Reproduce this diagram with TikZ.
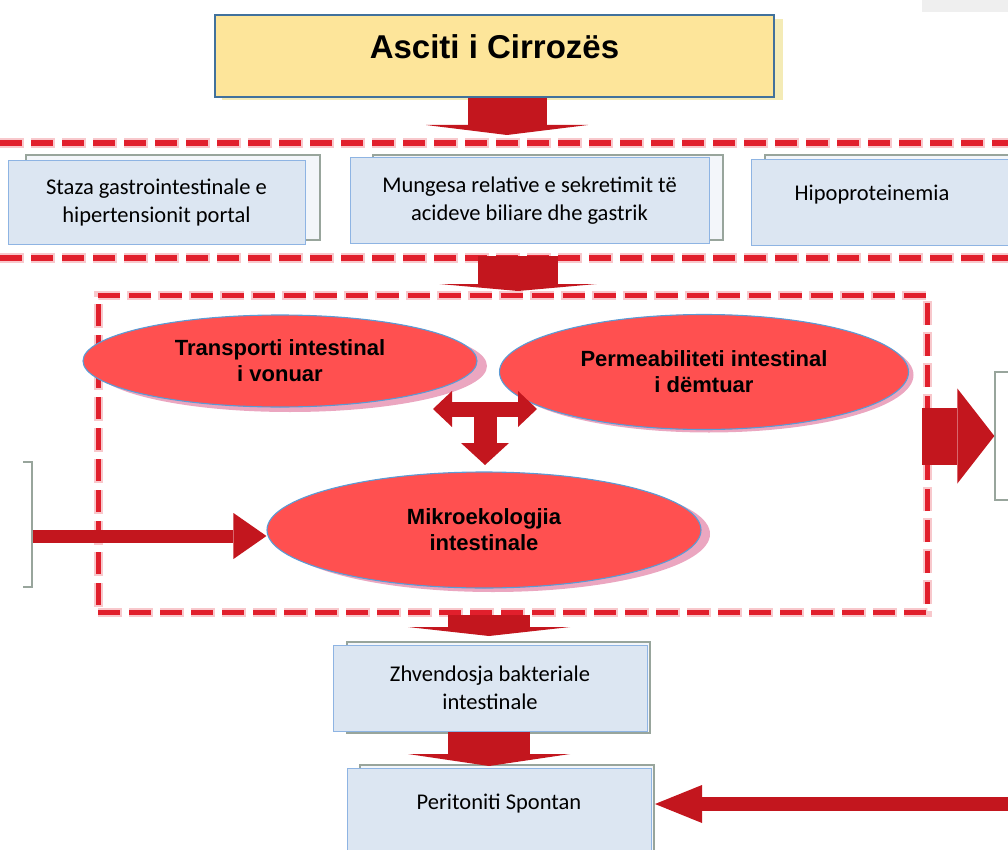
\documentclass[tikz,border=0pt]{standalone}
\usepackage{fontspec}
\setmainfont{Liberation Sans}
\newfontfamily\calfont{Carlito}
\usetikzlibrary{arrows.meta,shapes.geometric,calc}

\definecolor{titlefill}{HTML}{FDE59A}
\definecolor{titleline}{HTML}{41719C}
\definecolor{titleglow}{HTML}{F4EBB6}
\definecolor{boxfill}{HTML}{DCE6F2}
\definecolor{boxline}{HTML}{8EB4E3}
\definecolor{boxshade}{HTML}{98A59C}
\definecolor{ovalfill}{HTML}{FF5050}
\definecolor{ovalline}{HTML}{5B9BD5}
\definecolor{ovalshade}{HTML}{EBA6C0}
\definecolor{flowred}{HTML}{C3161E}
\definecolor{dashred}{HTML}{E11F2C}
\definecolor{dashhalo}{HTML}{F8C8CC}
\definecolor{cornergray}{HTML}{EFEFEF}

\tikzset{
  boxtext/.style={font=\calfont\fontsize{22.5}{27.5}\selectfont},
  infobox/.style={rectangle, draw=boxline, line width=1pt, fill=boxfill,
    inner sep=0pt, align=center, boxtext},
  boxshadow/.style={draw=boxshade, line width=1.3pt, fill=boxfill!35},
  oval/.style={ellipse, draw=ovalline, line width=1.1pt, fill=ovalfill,
    inner sep=0pt, align=center, font=\bfseries\fontsize{22}{26}\selectfont},
  ovalshadow/.style={ellipse, fill=ovalshade, inner sep=0pt},
  redband/.style={dashred, line width=5.5pt, dash pattern=on 22pt off 9pt},
  redhalo/.style={dashhalo, line width=10pt, dash pattern=on 24pt off 7pt},
  flow/.style={flowred, line width=#1},
  flathead/.style 2 args={-{Triangle[length=#1,width=#2,line width=0pt]}},
}

\begin{document}
\begin{tikzpicture}[x=1pt,y=-1pt]
\useasboundingbox (0,0) rectangle (1008,850);

% small grey patch in the upper right corner
\fill[cornergray] (922,0) rectangle (1008,12);

% ---------- title ----------
\fill[titleglow] (222,19) rectangle (783,100);
\node[rectangle, draw=titleline, line width=1.3pt, fill=titlefill,
  minimum width=559pt, minimum height=82pt, inner sep=0pt,
  label={[font=\bfseries\fontsize{33}{38}\selectfont, yshift=9pt]center:Asciti i Cirrozës}]
  (title) at (494.5,56) {};

% ---------- dashed band around the three causes ----------
\draw[redhalo] (0,143) -- (1008,143);
\draw[redhalo] (0,258) -- (1008,258);
\draw[redband] (0,143) -- (1008,143);
\draw[redband] (0,258) -- (1008,258);

% box shadows
\draw[boxshadow] (26,155) rectangle (320,240);
\draw[boxshadow] (373,155) rectangle (723,240);
\draw[boxshadow] (765,155) rectangle (1040,240);

\node[infobox, minimum width=297pt, minimum height=83pt] (stasis) at (156.5,202.5)
  {Staza gastrointestinale e\\hipertensionit portal};
\node[infobox, minimum width=359pt, minimum height=85pt] (acid) at (529.5,200.5)
  {Mungesa relative e sekretimit të\\acideve biliare dhe gastrik};
\node[infobox, minimum width=289pt, minimum height=85pt,
  label={[boxtext, xshift=-23.5pt, yshift=7.5pt]center:Hipoproteinemia}]
  (hypo) at (895.5,202.5) {};

% arrow from the title into the band
\coordinate (t1) at (507,135);
\draw[flow=79pt, flathead={10pt}{162pt}] (title.south -| t1) -- (t1);

% arrow from the band into the intestinal zone
\coordinate (s2) at (518,256);
\coordinate (t2) at (518,291);
\draw[flow=80pt, flathead={7pt}{157pt}] (s2) -- (t2);

% ---------- intestinal zone ----------
\node[rectangle, minimum width=829pt, minimum height=317pt, inner sep=0pt,
  draw=dashhalo, line width=9pt, dash pattern=on 24pt off 7pt] (zonehalo) at (512.5,453.5) {};
\node[rectangle, minimum width=829pt, minimum height=317pt, inner sep=0pt,
  draw=dashred, line width=5pt, dash pattern=on 22pt off 9pt] (zone) at (512.5,453.5) {};

% ellipse shadows
\node[ovalshadow, minimum width=394pt, minimum height=92pt] at (290,366) {};
\node[ovalshadow, minimum width=409pt, minimum height=115pt] at (709,375) {};
\node[ovalshadow, minimum width=434pt, minimum height=116pt] at (493,534) {};

\node[oval, minimum width=394pt, minimum height=92pt] (transport) at (280,361)
  {Transporti intestinal\\i vonuar};
\node[oval, minimum width=409pt, minimum height=115pt] (perm) at (704,372)
  {Permeabiliteti intestinal\\i dëmtuar};
\node[oval, minimum width=434pt, minimum height=116pt] (micro) at (484,530)
  {Mikroekologjia\\intestinale};

% three-way arrow between the ellipses
\coordinate (tl) at (433,409);
\coordinate (tr) at (537,409);
\coordinate (tj) at (485,403);
\coordinate (tb) at (485,465);
\draw[flow=15pt, {Triangle[length=19pt,width=36pt,line width=0pt]}-{Triangle[length=19pt,width=36pt,line width=0pt]}] (tl) -- (tr);
\draw[flow=23pt, flathead={22pt}{48pt}] (tj) -- (tb);

% ---------- side boxes cut by the frame ----------
\begin{scope}
  \clip (23,0) rectangle (1008,850);
  \node[rectangle, draw=boxshade, line width=1.3pt, fill=white,
    minimum width=132pt, minimum height=125pt] (leftbox) at (-34,524.5) {};
\end{scope}
\node[rectangle, draw=boxshade, line width=1.3pt, fill=white,
  minimum width=105pt, minimum height=128pt] (rightbox) at (1047.5,436) {};

\coordinate (la) at (32,536);
\draw[flow=13pt, flathead={33pt}{46pt}] (leftbox.east |- la) -- (micro.west |- la);

\coordinate (ra) at (922,436);
\draw[flow=57pt, flathead={37pt}{95pt}] (ra) -- (rightbox.west |- ra);

% ---------- lower chain ----------
\draw[boxshadow] (347,642) rectangle (650,733);
\node[infobox, minimum width=314pt, minimum height=86pt] (shift) at (490,688)
  {Zhvendosja bakteriale\\intestinale};

\draw[boxshadow] (360,765) rectangle (654,900);
\node[infobox, minimum width=304pt, minimum height=132pt,
  label={[boxtext, yshift=30pt]center:Peritoniti Spontan}]
  (perit) at (499,834) {};

\coordinate (t3) at (489,636);
\draw[flow=82pt, flathead={9pt}{162pt}] (zone.south -| t3) -- (t3);

\coordinate (t4) at (489,766);
\draw[flow=82pt, flathead={12pt}{162pt}] (shift.south -| t4) -- (t4);

\coordinate (pa) at (1012,804);
\coordinate (pt) at (655,804);
\draw[flow=14pt, flathead={47pt}{38pt}] (pa) -- (pt);
\end{tikzpicture}
\end{document}
